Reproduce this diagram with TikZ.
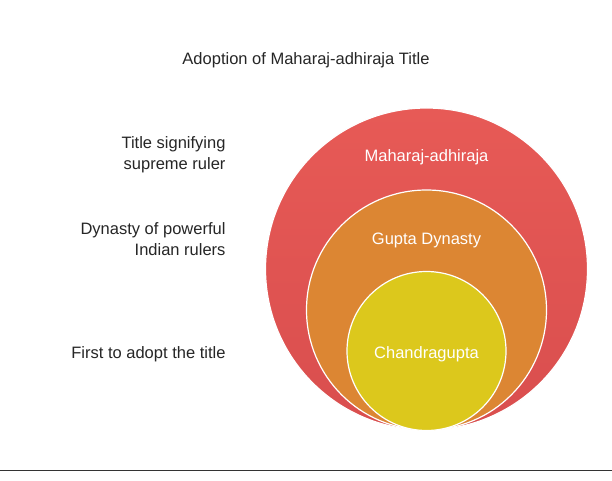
\documentclass[tikz,border=0pt]{standalone}
\usepackage{fontspec}
\setmainfont{Liberation Sans}
\definecolor{redtop}{HTML}{E75A56}
\definecolor{redbot}{HTML}{D94E4E}
\definecolor{orng}{HTML}{DC8633}
\definecolor{yell}{HTML}{DCC81C}
\begin{document}
\begin{tikzpicture}[x=1pt,y=-1pt,
  ring/.style={draw=white,line width=1.2pt,circle,inner sep=0pt},
  lbl/.style={font=\fontsize{16.5}{19}\selectfont,text=white},
  side/.style={font=\fontsize{16.5}{21}\selectfont,text=black!85,align=right,anchor=east}]
\useasboundingbox (0,0) rectangle (612,481);
\fill[white] (0,0) rectangle (612,481);
\node[ring,top color=redtop,bottom color=redbot,minimum size=322pt] (outer) at (426.5,269) {};
\node[ring,fill=orng,minimum size=240pt] (mid) at (426.5,310) {};
\node[ring,fill=yell,minimum size=159pt] (inner) at (426.5,351) {};
\node[lbl] (t1) at (426.5,157) {Maharaj-adhiraja};
\node[lbl] (t2) at (426.5,240) {Gupta Dynasty};
\node[lbl] (t3) at (426.5,354) {Chandragupta};
\node[font=\fontsize{16.5}{19}\selectfont,text=black!85] (title) at (306,60) {Adoption of Maharaj-adhiraja Title};
\node[side] (s1) at (229,155) {Title signifying\\supreme ruler};
\node[side] (s2) at (229,239) {Dynasty of powerful\\Indian rulers};
\node[side] (s3) at (229,354) {First to adopt the title};
\draw[black!80,line width=0.8pt] (0,470) coordinate (la) -- (612,470) coordinate (lb);
\end{tikzpicture}
\end{document}
